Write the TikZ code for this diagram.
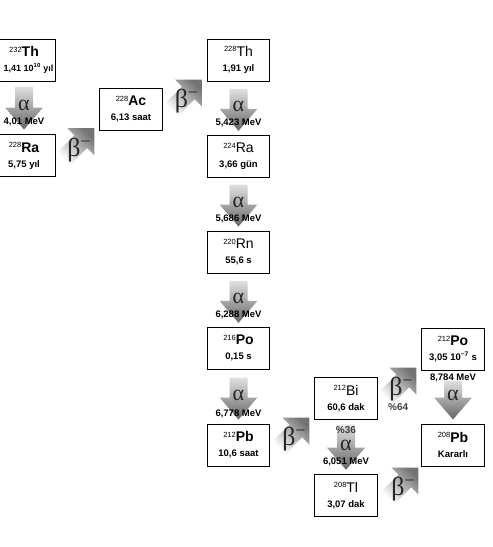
\documentclass[tikz,border=0pt]{standalone}
\usepackage{fontspec}
\setmainfont{Liberation Sans}
\newfontfamily\greekfont{Liberation Serif}
\usetikzlibrary{calc}

% mass number + element symbol
\newcommand{\nuc}[2]{{\fontsize{7.5}{8}\selectfont\mdseries\raisebox{4.6pt}{#1}}{\fontsize{14}{15}\selectfont #2}}

\begin{document}
\begin{tikzpicture}[x=1pt,y=-1pt,
  nuclide/.style={draw,line width=1pt,fill=white,minimum width=62.5pt,minimum height=42pt,
    inner sep=0pt,align=center,font=\fontsize{9.5}{15}\selectfont\bfseries},
  energy/.style={font=\fontsize{9.5}{10}\selectfont\bfseries,inner sep=0pt},
  branch/.style={font=\fontsize{10}{11}\selectfont\bfseries,text=black!75,inner sep=0pt},
  decaysym/.style={font=\fontsize{22}{22}\selectfont\greekfont,text=black!85,inner sep=0pt},
  betasym/.style={decaysym,font=\fontsize{26}{26}\selectfont\greekfont},
  alphashade/.style={top color=black!12,bottom color=black!60,draw=none},
  betashade/.style={bottom color=white,top color=black!55,shading angle=-45,draw=none},
  alphaarrow/.pic={
    \shade[alphashade] (0,0) -- (19,-22) -- (9,-22) -- (9,-#1) -- (-9,-#1)
      -- (-9,-22) -- (-19,-22) -- cycle;
    \node[decaysym] (-sym) at (0,-24) {α};
  },
  betaarrow/.pic={
    \shade[betashade] (0,0) -- (0,27) -- (-7.1,19.8) -- (-23.3,36.1) -- (-36.1,23.3)
      -- (-19.8,7.1) -- (-27,0) -- cycle;
    \node[betasym] (-sym) at (-15,21.5) {β\textsuperscript{−}};
  }]

\useasboundingbox (0,0) rectangle (493,547);
\clip (0,0) rectangle (493,547);

% ---- Nuclides ----
\node[nuclide] (th232) at (24,60) {\nuc{232}{Th}\\\hspace*{9pt}{\fontsize{9}{15}\selectfont 1,41 10\textsuperscript{10} yıl}};
\node[nuclide] (ra228) at (24,155.6) {\nuc{228}{Ra}\\5,75 yıl};
\node[nuclide] (ac228) at (131,109.3) {\nuc{228}{Ac}\\6,13 saat};
\node[nuclide] (th228) at (238.5,60) {\nuc{228}{\mdseries Th}\\1,91 yıl};
\node[nuclide] (ra224) at (238.5,156.3) {\nuc{224}{\mdseries Ra}\\3,66 gün};
\node[nuclide] (rn220) at (238.5,252) {\nuc{220}{\mdseries Rn}\\55,6 s};
\node[nuclide] (po216) at (238.5,348.3) {\nuc{216}{Po}\\0,15 s};
\node[nuclide] (pb212) at (238.5,445) {\nuc{212}{Pb}\\10,6 saat};
\node[nuclide] (bi212) at (346,398.6) {\nuc{212}{\mdseries Bi}\\60,6 dak};
\node[nuclide] (tl208) at (346,495.2) {\nuc{208}{\mdseries Tl}\\3,07 dak};
\node[nuclide] (po212) at (453,349) {\nuc{212}{Po}\\3,05 10\textsuperscript{−7} s};
\node[nuclide] (pb208) at (453,445) {\nuc{208}{Pb}\\Kararlı};

% ---- Alpha decays ----
\pic (a1) at ($(ra228.north)+(0,-4.6)$) {alphaarrow=43};
\pic (a2) at ($(ra224.north)+(0,-4)$) {alphaarrow=42};
\pic (a3) at ($(rn220.north)+(0,-4)$) {alphaarrow=42};
\pic (a4) at ($(po216.north)+(0,-4)$) {alphaarrow=42};
\pic (a5) at ($(pb212.north)+(0,-4)$) {alphaarrow=42};
\pic (a6) at ($(tl208.north)+(0,-4)$) {alphaarrow=45};
\pic (a7) at ($(pb208.north)+(0,-4)$) {alphaarrow=39};

% ---- Beta decays ----
\pic (b1) at ($(ac228.south west)+(-5,-2.6)$) {betaarrow};
\pic (b2) at ($(th228.south west)+(-5,-2)$) {betaarrow};
\pic (b3) at ($(bi212.south west)+(-5,-2.6)$) {betaarrow};
\pic (b4) at ($(po212.south west)+(-5,-3)$) {betaarrow};
\pic (b5) at ($(pb208.south west)+(-3,1)$) {betaarrow};

% Energies
\node[energy] (e1) at ($(ra228.north)+(0,-12.5)$) {4,01 MeV};
\node[energy] (e2) at ($(ra224.north)+(0,-12)$) {5,423 MeV};
\node[energy] (e3) at ($(rn220.north)+(0,-12)$) {5,686 MeV};
\node[energy] (e4) at ($(po216.north)+(0,-12)$) {6,288 MeV};
\node[energy] (e5) at ($(pb212.north)+(0,-10)$) {6,778 MeV};
\node[energy] (e6) at ($(tl208.north)+(0,-12)$) {6,051 MeV};
\node[energy] (e7) at ($(po212.south)+(0,7)$) {8,784 MeV};

% Branching ratios
\node[branch] (br36) at ($(bi212.south)+(0,9.5)$) {\%36};
\node[branch] (br64) at ($(po212.south west)+(-23,37)$) {\%64};

\end{tikzpicture}
\end{document}
